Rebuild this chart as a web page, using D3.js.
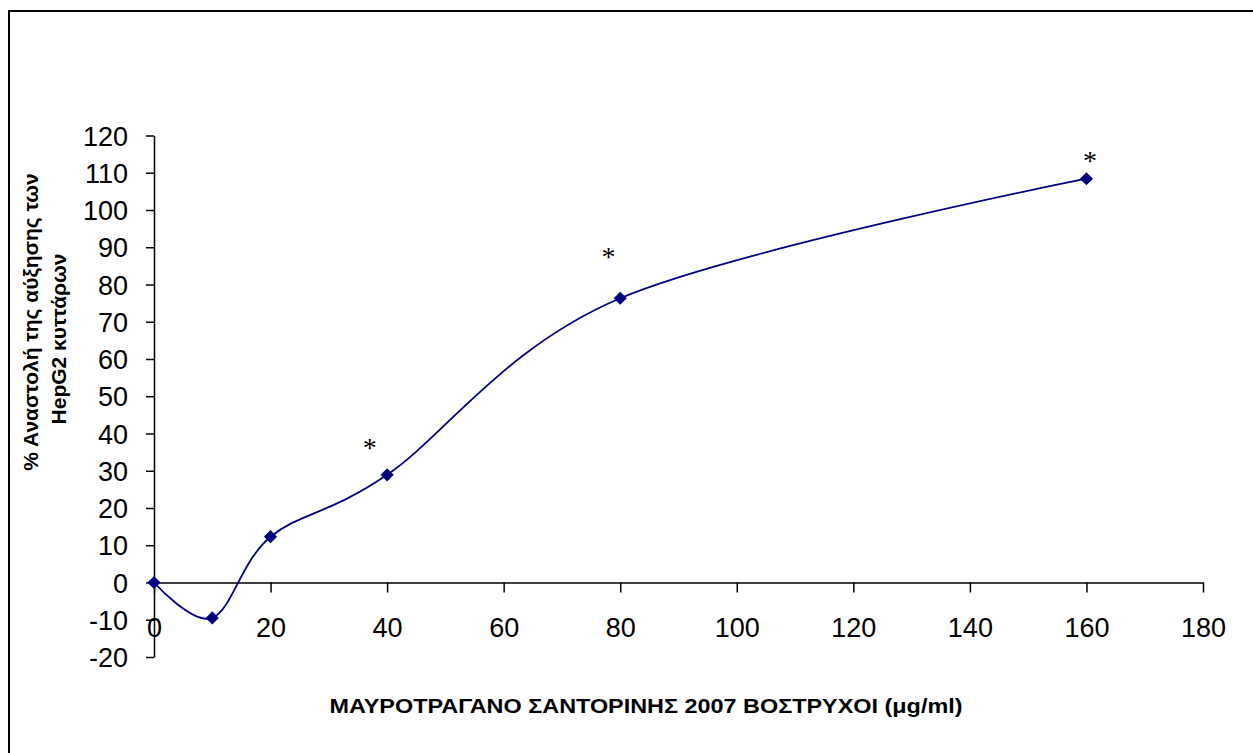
<!DOCTYPE html>
<html>
<head>
<meta charset="utf-8">
<script src="https://cdn.jsdelivr.net/npm/d3@7"></script>
<style>
  body { margin: 0; background: #fff; }
  svg { display: block; }
  .tick-label { font-family: "Liberation Sans", Arial, sans-serif; font-size: 27px; fill: #000; }
  .axis-title { font-family: "Liberation Sans", Arial, sans-serif; font-weight: bold; fill: #000; }
  .star { font-family: "Liberation Serif", "Times New Roman", serif; font-size: 28px; fill: #000; }
</style>
</head>
<body>
<div id="graph"></div>
<script>
// Chart data
const doses = [0, 10, 20, 40, 80, 160];
const inhibition = [0, -9.5, 12.3, 28.9, 76.3, 108.4];
const starDoses = [37, 78, 160.6];
const starValues = [37.4, 88.6, 114.6];
const xTicks = [0, 20, 40, 60, 80, 100, 120, 140, 160, 180];
const yTicks = [-20, -10, 0, 10, 20, 30, 40, 50, 60, 70, 80, 90, 100, 110, 120];
const xTitle = "ΜΑΥΡΟΤΡΑΓΑΝΟ ΣΑΝΤΟΡΙΝΗΣ 2007 ΒΟΣΤΡΥΧΟΙ (μg/ml)";
const yTitleLines = ["% Αναστολή της αύξησης των", "HepG2 κυττάρων"];

const width = 1253, height = 753;
const navy = "#000080";

const svg = d3.select("#graph").append("svg")
    .attr("width", width)
    .attr("height", height);

// Outer frame (only top and left edges are visible)
svg.append("rect")
    .attr("x", 9).attr("y", 11)
    .attr("width", width + 20).attr("height", height + 20)
    .attr("fill", "none")
    .attr("stroke", "#000")
    .attr("stroke-width", 2);

const xScale = d3.scaleLinear().domain([0, 180]).range([154, 1203]);
const yScale = d3.scaleLinear().domain([-20, 120]).range([657, 135.5]);

// Y axis: line at x = 0, ticks on the left
const yAxis = svg.append("g")
    .attr("transform", `translate(${xScale(0)},0)`)
    .call(d3.axisLeft(yScale).tickValues(yTicks).tickSize(8).tickSizeOuter(0).tickFormat(d => String(d)));
yAxis.attr("font-family", null).attr("font-size", null);
yAxis.select(".domain").attr("stroke", "#000").attr("stroke-width", 1.5);
yAxis.selectAll(".tick line").attr("stroke", "#000").attr("stroke-width", 1.5);
yAxis.selectAll(".tick text")
    .attr("class", "tick-label")
    .attr("x", -26)
    .attr("dy", "0.36em");

// X axis: line at y = 0, ticks below
const xAxis = svg.append("g")
    .attr("transform", `translate(0,${yScale(0)})`)
    .call(d3.axisBottom(xScale).tickValues(xTicks).tickSize(10).tickSizeOuter(0).tickFormat(d => String(d)));
xAxis.attr("font-family", null).attr("font-size", null);
xAxis.select(".domain").attr("stroke", "#000").attr("stroke-width", 1.5);
xAxis.selectAll(".tick line").attr("stroke", "#000").attr("stroke-width", 1.5);
xAxis.selectAll(".tick text")
    .attr("class", "tick-label")
    .attr("y", 45)
    .attr("dy", "0.36em");

// Smoothed series line
const points = doses.map((d, i) => ({x: d, y: inhibition[i]}));
const line = d3.line()
    .x(d => xScale(d.x))
    .y(d => yScale(d.y))
    .curve(d3.curveCatmullRom.alpha(0));

svg.append("path")
    .datum(points)
    .attr("fill", "none")
    .attr("stroke", navy)
    .attr("stroke-width", 1.8)
    .attr("d", line);

// Diamond markers
svg.selectAll("path.marker")
    .data(points)
    .join("path")
    .attr("class", "marker")
    .attr("d", d3.symbol().type(d3.symbolDiamond2).size(110))
    .attr("transform", d => `translate(${xScale(d.x)},${yScale(d.y)})`)
    .attr("fill", navy);

// Significance asterisks
svg.selectAll("text.star")
    .data(starDoses.map((d, i) => ({x: d, y: starValues[i]})))
    .join("text")
    .attr("class", "star")
    .attr("text-anchor", "middle")
    .attr("x", d => xScale(d.x))
    .attr("y", d => yScale(d.y))
    .attr("dy", "0.5em")
    .text("*");

// Axis titles
svg.append("text")
    .attr("class", "axis-title")
    .attr("text-anchor", "middle")
    .attr("font-size", 21)
    .attr("x", 646).attr("y", 713)
    .attr("textLength", 633)
    .attr("lengthAdjust", "spacingAndGlyphs")
    .text(xTitle);

// Two separate lines for the rotated y title
const yTitlePos = [{x: 38, y: 322}, {x: 66, y: 339}];
yTitleLines.forEach((t, i) => {
    svg.append("text")
        .attr("class", "axis-title")
        .attr("text-anchor", "middle")
        .attr("font-size", 21)
        .attr("transform", `translate(${yTitlePos[i].x},${yTitlePos[i].y}) rotate(-90)`)
        .text(t);
});
</script>
</body>
</html>
